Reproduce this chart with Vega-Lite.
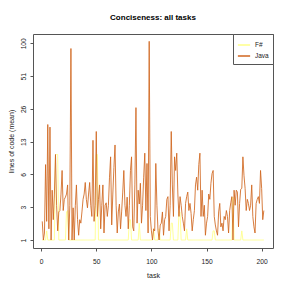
{
 "$schema": "https://vega.github.io/schema/vega-lite/v6.json",
 "width": 240, "height": 214,
 "autosize": "none",
 "padding": {"left": 33, "top": 34, "right": 18, "bottom": 43},
 "background": "white",
 "title": {"text": "Conciseness: all tasks", "fontSize": 8, "font": "Liberation Sans", "fontWeight": "bold", "color": "#000", "offset": 12, "anchor": "middle"},
 "data": {"values": [
{"task":1,"F#":1,"Java":1.9},{"task":2,"F#":1,"Java":1.0},{"task":3,"F#":1,"Java":1.3},{"task":4,"F#":1,"Java":8},{"task":5,"F#":1.4,"Java":1.9},
{"task":6,"F#":1,"Java":19},{"task":7,"F#":1,"Java":1.5},{"task":8,"F#":1,"Java":18},{"task":9,"F#":1,"Java":1.0},{"task":10,"F#":1,"Java":4.4},
{"task":11,"F#":1,"Java":2.0},{"task":12,"F#":1,"Java":4},{"task":13,"F#":10,"Java":10},{"task":14,"F#":10,"Java":3},{"task":15,"F#":10,"Java":1.4},
{"task":16,"F#":1,"Java":2.5},{"task":17,"F#":1,"Java":2.6},{"task":18,"F#":1,"Java":4},{"task":19,"F#":1,"Java":7},{"task":20,"F#":1,"Java":2.6},
{"task":21,"F#":1,"Java":3.5},{"task":22,"F#":1,"Java":3.7},{"task":23,"F#":2.5,"Java":4},{"task":24,"F#":2.6,"Java":5},{"task":25,"F#":1,"Java":1.0},
{"task":26,"F#":1,"Java":3},{"task":27,"F#":1,"Java":90},{"task":28,"F#":1,"Java":1.0},{"task":29,"F#":1,"Java":2.8},{"task":30,"F#":1,"Java":1.0},
{"task":31,"F#":1,"Java":3},{"task":32,"F#":1,"Java":5},{"task":33,"F#":1,"Java":2},{"task":34,"F#":1,"Java":1.2},{"task":35,"F#":1,"Java":2},
{"task":36,"F#":1,"Java":1.8},{"task":37,"F#":1,"Java":2.5},{"task":38,"F#":1,"Java":3.5},{"task":39,"F#":1,"Java":4},{"task":40,"F#":1,"Java":5.3},
{"task":41,"F#":1,"Java":3.5},{"task":42,"F#":1,"Java":2.8},{"task":43,"F#":1,"Java":4},{"task":44,"F#":1,"Java":5.3},{"task":45,"F#":1,"Java":3},
{"task":46,"F#":1,"Java":2.2},{"task":47,"F#":1,"Java":13.6},{"task":48,"F#":1,"Java":1.9},{"task":49,"F#":1,"Java":3},{"task":50,"F#":10,"Java":16.4},
{"task":51,"F#":10,"Java":2.2},{"task":52,"F#":1,"Java":3.5},{"task":53,"F#":1,"Java":5},{"task":54,"F#":1,"Java":1.5},{"task":55,"F#":1,"Java":3},
{"task":56,"F#":1,"Java":5},{"task":57,"F#":1,"Java":1.3},{"task":58,"F#":1,"Java":3},{"task":59,"F#":1,"Java":3.2},{"task":60,"F#":1,"Java":2.2},
{"task":61,"F#":1,"Java":3},{"task":62,"F#":1,"Java":6},{"task":63,"F#":1,"Java":9.5},{"task":64,"F#":1,"Java":1.7},{"task":65,"F#":1,"Java":4},
{"task":66,"F#":1,"Java":7.5},{"task":67,"F#":1,"Java":12.3},{"task":68,"F#":1,"Java":3},{"task":69,"F#":1,"Java":1.3},{"task":70,"F#":1,"Java":2.5},
{"task":71,"F#":1,"Java":3.1},{"task":72,"F#":1,"Java":1.5},{"task":73,"F#":1,"Java":2.5},{"task":74,"F#":1,"Java":4.2},{"task":75,"F#":1,"Java":7},
{"task":76,"F#":1,"Java":3},{"task":77,"F#":1,"Java":2.2},{"task":78,"F#":1,"Java":3.7},{"task":79,"F#":1,"Java":1.5},{"task":80,"F#":2,"Java":3},
{"task":81,"F#":2,"Java":7},{"task":82,"F#":1,"Java":9.5},{"task":83,"F#":1,"Java":1.6},{"task":84,"F#":1,"Java":1.4},{"task":85,"F#":1,"Java":5},
{"task":86,"F#":1,"Java":27},{"task":87,"F#":1,"Java":1.8},{"task":88,"F#":1,"Java":4.4},{"task":89,"F#":1.8,"Java":3.1},{"task":90,"F#":1,"Java":5.2},
{"task":91,"F#":1,"Java":1.8},{"task":92,"F#":1,"Java":3},{"task":93,"F#":1,"Java":6},{"task":94,"F#":1,"Java":10.3},{"task":95,"F#":1,"Java":2.6},
{"task":96,"F#":1,"Java":8.2},{"task":97,"F#":1,"Java":1.3},{"task":98,"F#":1,"Java":104},{"task":99,"F#":1,"Java":2.2},{"task":100,"F#":1,"Java":1.4},
{"task":101,"F#":1,"Java":1.0},{"task":102,"F#":1.5,"Java":1.5},{"task":103,"F#":1,"Java":1.4},{"task":104,"F#":1,"Java":8.2},{"task":105,"F#":1,"Java":3},
{"task":106,"F#":1,"Java":1.4},{"task":107,"F#":1.5,"Java":1.0},{"task":108,"F#":1,"Java":1.7},{"task":109,"F#":1,"Java":1.8},{"task":110,"F#":1,"Java":2.5},
{"task":111,"F#":1,"Java":1.2},{"task":112,"F#":1,"Java":2},{"task":113,"F#":1,"Java":2.2},{"task":114,"F#":1,"Java":3.5},{"task":115,"F#":1,"Java":3.75},
{"task":116,"F#":1,"Java":1.4},{"task":117,"F#":1,"Java":3},{"task":118,"F#":1.8,"Java":16.4},{"task":119,"F#":1.8,"Java":5},{"task":120,"F#":1,"Java":2.2},
{"task":121,"F#":1,"Java":9.5},{"task":122,"F#":1,"Java":7},{"task":123,"F#":1,"Java":10.3},{"task":124,"F#":1,"Java":4},{"task":125,"F#":2.5,"Java":2.2},
{"task":126,"F#":2.5,"Java":3.75},{"task":127,"F#":1,"Java":3},{"task":128,"F#":1,"Java":2.2},{"task":129,"F#":1,"Java":1.8},{"task":130,"F#":1,"Java":1.4},
{"task":131,"F#":1,"Java":3.15},{"task":132,"F#":1.5,"Java":3.75},{"task":133,"F#":1,"Java":4.2},{"task":134,"F#":1,"Java":2.6},{"task":135,"F#":1,"Java":3.15},
{"task":136,"F#":1,"Java":2.4},{"task":137,"F#":1,"Java":1.4},{"task":138,"F#":1,"Java":2},{"task":139,"F#":1,"Java":2.6},{"task":140,"F#":1,"Java":5},
{"task":141,"F#":1,"Java":6},{"task":142,"F#":1,"Java":4.4},{"task":143,"F#":1,"Java":8},{"task":144,"F#":1,"Java":10.3},{"task":145,"F#":1,"Java":2.2},
{"task":146,"F#":1,"Java":4.4},{"task":147,"F#":1,"Java":2.2},{"task":148,"F#":1,"Java":3},{"task":149,"F#":1,"Java":1.2},{"task":150,"F#":1,"Java":1.8},
{"task":151,"F#":1,"Java":2.2},{"task":152,"F#":1,"Java":4},{"task":153,"F#":1,"Java":3.5},{"task":154,"F#":1,"Java":5.2},{"task":155,"F#":1,"Java":6.5},
{"task":156,"F#":1.4,"Java":7},{"task":157,"F#":1.4,"Java":2.2},{"task":158,"F#":1,"Java":1.7},{"task":159,"F#":1,"Java":1.4},{"task":160,"F#":1,"Java":1.2},
{"task":161,"F#":1,"Java":2.5},{"task":162,"F#":1,"Java":3.15},{"task":163,"F#":1,"Java":1.6},{"task":164,"F#":1,"Java":1.8},{"task":165,"F#":1,"Java":1.4},
{"task":166,"F#":1,"Java":2.2},{"task":167,"F#":1,"Java":2},{"task":168,"F#":1,"Java":2.6},{"task":169,"F#":1,"Java":2.2},{"task":170,"F#":1,"Java":1.3},
{"task":171,"F#":1,"Java":2.6},{"task":172,"F#":1,"Java":3.2},{"task":173,"F#":1,"Java":3.75},{"task":174,"F#":3.7,"Java":1.0},{"task":175,"F#":1,"Java":4.4},
{"task":176,"F#":1,"Java":3},{"task":177,"F#":1,"Java":4.4},{"task":178,"F#":1,"Java":4.2},{"task":179,"F#":1,"Java":1.6},{"task":180,"F#":1,"Java":3.15},
{"task":181,"F#":1,"Java":4.5},{"task":182,"F#":1.4,"Java":4.6},{"task":183,"F#":1,"Java":9.5},{"task":184,"F#":1,"Java":6.2},{"task":185,"F#":1,"Java":4.6},
{"task":186,"F#":1,"Java":2.6},{"task":187,"F#":1,"Java":3.5},{"task":188,"F#":1,"Java":3.15},{"task":189,"F#":1,"Java":2.6},{"task":190,"F#":1,"Java":3},
{"task":191,"F#":1,"Java":5},{"task":192,"F#":1,"Java":2.2},{"task":193,"F#":1,"Java":1.6},{"task":194,"F#":1,"Java":1.3},{"task":195,"F#":1,"Java":3.15},
{"task":196,"F#":1,"Java":3.5},{"task":197,"F#":1,"Java":3.75},{"task":198,"F#":1,"Java":3.15},{"task":199,"F#":1,"Java":7},{"task":200,"F#":1,"Java":4.6},
{"task":201,"F#":1,"Java":2},{"task":202,"F#":1,"Java":2.6}
 ]},
 "transform": [{"fold": ["F#", "Java"], "as": ["lang", "loc"]}],
 "mark": {"type": "line", "strokeWidth": 1, "strokeOpacity": 0.85, "interpolate": "linear"},
 "encoding": {
  "x": {"field": "task", "type": "quantitative",
        "scale": {"domain": [-7.4, 210.3], "nice": false, "zero": false},
        "axis": {"values": [0, 50, 100, 150, 200], "title": "task", "grid": false, "domain": false,
                 "ticks": true, "tickSize": 3, "tickColor": "#555", "labelFontSize": 6.7, "labelFont": "Liberation Sans",
                 "labelColor": "#222", "labelPadding": 7, "titleFont": "Liberation Sans", "titleFontSize": 7,
                 "titleFontWeight": "normal", "titleColor": "#222", "titlePadding": 7}},
  "y": {"field": "loc", "type": "quantitative",
        "scale": {"type": "symlog", "constant": 1, "domain": [0.706, 120.5], "nice": false, "zero": false},
        "axis": {"values": [1, 2.85, 6.39, 13.2, 26.3, 51.4, 100], "labelExpr": "format(datum.value, '.0f')",
                 "title": "lines of code (mean)", "grid": false, "domain": false,
                 "ticks": true, "tickSize": 3, "tickColor": "#555", "labelFontSize": 6.7, "labelFont": "Liberation Sans",
                 "labelColor": "#222", "labelAngle": -90, "labelAlign": "center", "labelBaseline": "bottom", "labelPadding": 4,
                 "titleFont": "Liberation Sans", "titleFontSize": 7, "titleFontWeight": "normal", "titleColor": "#222", "titlePadding": 6}},
  "color": {"field": "lang", "type": "nominal",
            "scale": {"domain": ["F#", "Java"], "range": ["#ffff88", "#d0661f"]},
            "legend": {"title": null, "orient": "top-right", "offset": 0, "symbolType": "stroke", "symbolStrokeWidth": 1.5,
                       "symbolSize": 150, "labelFontSize": 6.5, "labelFont": "Liberation Sans", "labelColor": "#222",
                       "strokeColor": "#555", "fillColor": "white", "padding": 4, "rowPadding": 0}}
 },
 "config": {"view": {"stroke": "#555", "strokeWidth": 1}}
}
